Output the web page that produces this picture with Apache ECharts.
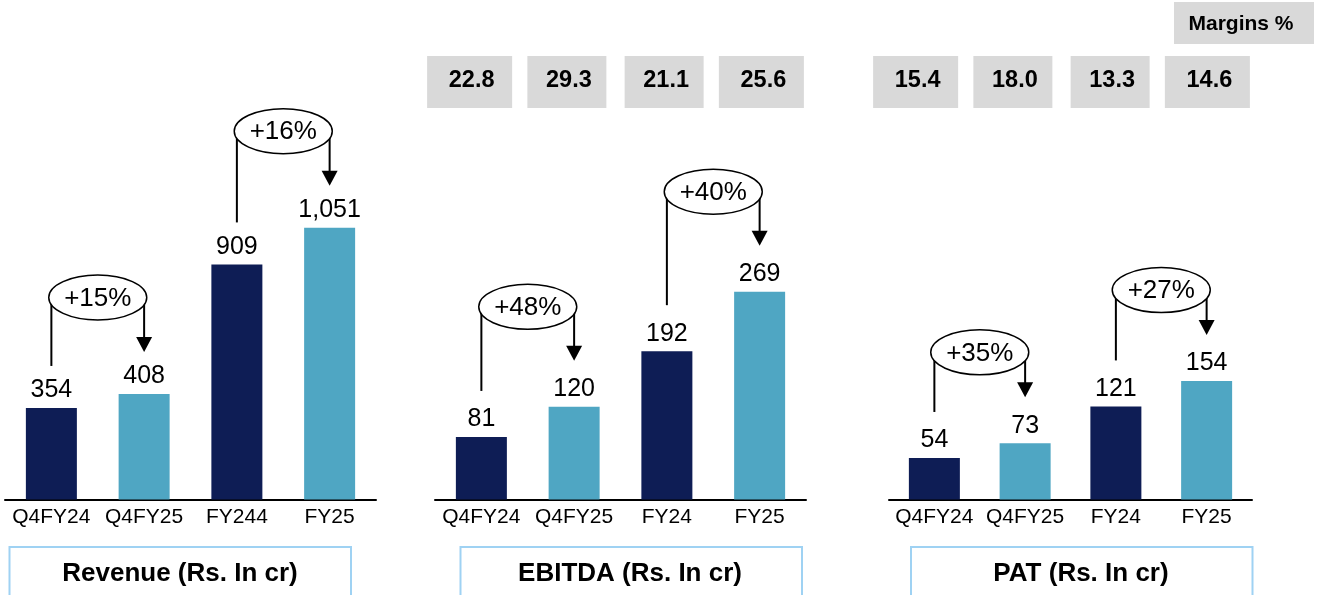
<!DOCTYPE html>
<html>
<head>
<meta charset="utf-8">
<script src="https://cdn.jsdelivr.net/npm/echarts@6/dist/echarts.min.js"></script>
<style>
html,body{margin:0;padding:0;background:#fff;}
#chart{width:1318px;height:595px;}
</style>
</head>
<body>
<div id="chart"></div>
<script>
// ---- data ----
const revenueCategories = ['Q4FY24', 'Q4FY25', 'FY244', 'FY25'];
const otherCategories = ['Q4FY24', 'Q4FY25', 'FY24', 'FY25'];
const revenue = [354, 408, 909, 1051];
const ebitda = [81, 120, 192, 269];
const pat = [54, 73, 121, 154];
const ebitdaMargin = ['22.8', '29.3', '21.1', '25.6'];
const patMargin = ['15.4', '18.0', '13.3', '14.6'];
const revenueGrowth = ['+15%', '+16%'];
const ebitdaGrowth = ['+48%', '+40%'];
const patGrowth = ['+35%', '+27%'];
const growthPairs = [[0, 1], [2, 3]];
const panelTitles = ['Revenue (Rs. In cr)', 'EBITDA (Rs. In cr)', 'PAT (Rs. In cr)'];
const marginsLabel = 'Margins %';

// ---- style ----
const FONT = '"Liberation Sans", Arial, Helvetica, sans-serif';
const DARK = '#0E1D55';
const LIGHT = '#4FA6C3';
const BOXGRAY = '#D9D9D9';

const panels = [
  { cats: revenueCategories, vals: revenue, growth: revenueGrowth, max: 1800,
    grid: { left: 5, top: 34, width: 371, height: 465.5 }, gap: 42, ellOff: 96.5 },
  { cats: otherCategories, vals: ebitda, growth: ebitdaGrowth, max: 600,
    grid: { left: 435, top: 36, width: 371, height: 463.5 }, gap: 46, ellOff: 100 },
  { cats: otherCategories, vals: pat, growth: patGrowth, max: 600,
    grid: { left: 889, top: 38, width: 363, height: 461.5 }, gap: 46, ellOff: 91 }
];
const marginRows = [
  { vals: ebitdaMargin, grid: { left: 421, top: 56, width: 389, height: 52 } },
  { vals: patMargin, grid: { left: 867, top: 56, width: 389, height: 52 } }
];

const grids = [], xAxes = [], yAxes = [], series = [];

panels.forEach((p, k) => {
  grids.push(Object.assign({ containLabel: false }, p.grid));
  xAxes.push({
    type: 'category', gridIndex: k, data: p.cats,
    axisLine: { show: true, lineStyle: { color: '#000', width: 2 } },
    axisTick: { show: false },
    axisLabel: { color: '#000', fontSize: 21, fontFamily: FONT, margin: 7, interval: 0 }
  });
  yAxes.push({ type: 'value', gridIndex: k, min: 0, max: p.max, show: false, splitLine: { show: false } });
  series.push({
    type: 'bar', xAxisIndex: k, yAxisIndex: k, data: p.vals, barWidth: 51,
    itemStyle: { color: (d) => (d.dataIndex % 2 === 0 ? DARK : LIGHT) },
    label: {
      show: true, position: 'top', distance: 5, color: '#000', fontSize: 25, fontFamily: FONT,
      formatter: (d) => d.value.toLocaleString('en-US')
    },
    silent: true, animation: false
  });
  series.push({
    type: 'custom', xAxisIndex: k, yAxisIndex: k, z: 5, animation: false, silent: true,
    data: growthPairs.map(g => [g[0], p.vals[g[0]], g[1], p.vals[g[1]]]),
    renderItem: function (params, api) {
      const a = api.coord([api.value(0), api.value(1)]);
      const b = api.coord([api.value(2), api.value(3)]);
      const topY = Math.min(a[1], b[1]);
      const cx = (a[0] + b[0]) / 2;
      const cy = topY - p.ellOff;
      const tipY = b[1] - p.gap;
      const ah = 15, aw = 8;
      const stroke = { stroke: '#000', lineWidth: 2, fill: null };
      return {
        type: 'group',
        children: [
          { type: 'line', shape: { x1: a[0], y1: a[1] - p.gap, x2: a[0], y2: cy }, style: stroke },
          { type: 'line', shape: { x1: b[0], y1: cy, x2: b[0], y2: tipY - ah + 1 }, style: stroke },
          { type: 'polygon', shape: { points: [[b[0] - aw, tipY - ah], [b[0] + aw, tipY - ah], [b[0], tipY]] },
            style: { fill: '#000' } },
          { type: 'ellipse', shape: { cx: cx, cy: cy, rx: 49, ry: 22.5 },
            style: { fill: '#fff', stroke: '#000', lineWidth: 1.5 } },
          { type: 'text', x: cx, y: cy + 1,
            style: { text: p.growth[params.dataIndex], fill: '#000', fontSize: 26, fontFamily: FONT,
              align: 'center', verticalAlign: 'middle' } }
        ]
      };
    }
  });
});

marginRows.forEach((m, j) => {
  const k = panels.length + j;
  grids.push(Object.assign({ containLabel: false }, m.grid));
  xAxes.push({ type: 'category', gridIndex: k, data: m.vals, show: false });
  yAxes.push({ type: 'value', gridIndex: k, min: 0, max: 1, show: false });
  series.push({
    type: 'custom', xAxisIndex: k, yAxisIndex: k, animation: false, silent: true,
    data: m.vals.map((v, i) => [i, 0]),
    renderItem: function (params, api) {
      const x = api.coord([api.value(0), 0])[0];
      const cs = params.coordSys;
      const w = (params.dataIndex === 0 || params.dataIndex === 3) ? 85 : 79;
      return {
        type: 'group',
        children: [
          { type: 'rect', shape: { x: x - w / 2, y: cs.y, width: w, height: cs.height },
            style: { fill: BOXGRAY } },
          { type: 'text', x: x + 2, y: cs.y + cs.height / 2 - 1,
            style: { text: m.vals[params.dataIndex], fill: '#000', fontSize: 23.5, fontWeight: 'bold',
              fontFamily: FONT, align: 'center', verticalAlign: 'middle' } }
        ]
      };
    }
  });
});

const titleBoxes = [
  { x: 8.5, w: 341.5, cx: 180 },
  { x: 459.5, w: 341.5, cx: 630 },
  { x: 910, w: 341.5, cx: 1081 }
];
const graphics = [];
titleBoxes.forEach((t, i) => {
  graphics.push({ type: 'rect', left: t.x, top: 546, shape: { width: t.w, height: 60 },
    style: { fill: '#fff', stroke: '#9FD2F3', lineWidth: 2 }, silent: true });
  graphics.push({ type: 'text', x: t.cx, y: 574,
    style: { text: panelTitles[i], fill: '#000', fontSize: 26, fontWeight: 'bold', fontFamily: FONT,
      align: 'center', verticalAlign: 'middle' }, silent: true });
});
graphics.push({ type: 'rect', left: 1174, top: 2, shape: { width: 140, height: 42 },
  style: { fill: BOXGRAY }, silent: true });
graphics.push({ type: 'text', x: 1241, y: 24,
  style: { text: marginsLabel, fill: '#000', fontSize: 21, fontWeight: 'bold', fontFamily: FONT,
    align: 'center', verticalAlign: 'middle' }, silent: true });

const chart = echarts.init(document.getElementById('chart'), null, { renderer: 'canvas' });
chart.setOption({
  animation: false,
  backgroundColor: '#fff',
  grid: grids,
  xAxis: xAxes,
  yAxis: yAxes,
  series: series,
  graphic: graphics
});
</script>
</body>
</html>
